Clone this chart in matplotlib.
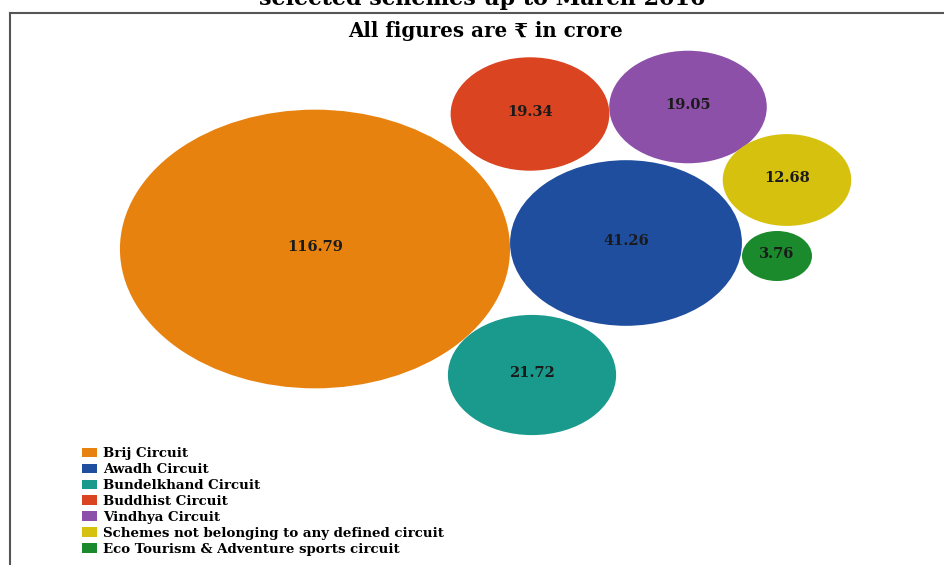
import matplotlib.pyplot as plt
from matplotlib.patches import Ellipse
import numpy as np

plt.rcParams['font.family'] = ['DejaVu Serif', 'DejaVu Sans']

# circuit-wise expenditure, Rs crore
circuits = ['Brij Circuit', 'Awadh Circuit', 'Bundelkhand Circuit', 'Buddhist Circuit',
            'Vindhya Circuit', 'Schemes not belonging to any defined circuit',
            'Eco Tourism & Adventure sports circuit']
values = [116.79, 41.26, 21.72, 19.34, 19.05, 12.68, 3.76]
colors = ['#E8820F', '#1F4E9E', '#1A9A8D', '#DA4420', '#8C50A8', '#D6C20E', '#1B8A2C']

# bubble centres (pixel layout of the packed bubbles)
cx = [315, 626, 532, 530, 688, 787, 777]
cy = [249, 243, 375, 114, 107, 180, 256]

fig = plt.figure(figsize=(9.45, 5.65), dpi=100)
ax = fig.add_axes([0, 0, 1, 1])
ax.set_xlim(0, 945)
ax.set_ylim(565, 0)
ax.axis('off')

# area proportional to value, bubbles stretched horizontally
scale = 36.1
stretch = 1.4
handles = []
for name, v, c, x, y in zip(circuits, values, colors, cx, cy):
    w = scale * np.sqrt(v)
    e = Ellipse((x, y), w, w / stretch, facecolor=c, edgecolor='none', label=name)
    ax.add_patch(e)
    handles.append(e)
    ax.text(x, y - 2, f'{v:.2f}', ha='center', va='center', fontsize=10.5,
            fontweight='bold', color='#1a1a1a')

# frame lines
ax.plot([10, 945], [13, 13], color='#555555', lw=1.5)
ax.plot([10, 10], [13, 565], color='#555555', lw=1.5)

ax.text(482, 5, 'selected schemes up to March 2016', ha='center', va='baseline',
        fontsize=16, fontweight='bold')
ax.text(486, 37, 'All figures are \u20b9 in crore', ha='center', va='baseline',
        fontsize=14.3, fontweight='bold')

ax.legend(handles=handles, loc='upper left', bbox_to_anchor=(82 / 945, 1 - 447 / 565),
          frameon=False, prop={'size': 9.6, 'weight': 'bold'}, handlelength=1.1,
          handleheight=0.7, handletextpad=0.45, labelspacing=0.22, borderpad=0,
          borderaxespad=0)

fig.savefig('out.png', dpi=100)
